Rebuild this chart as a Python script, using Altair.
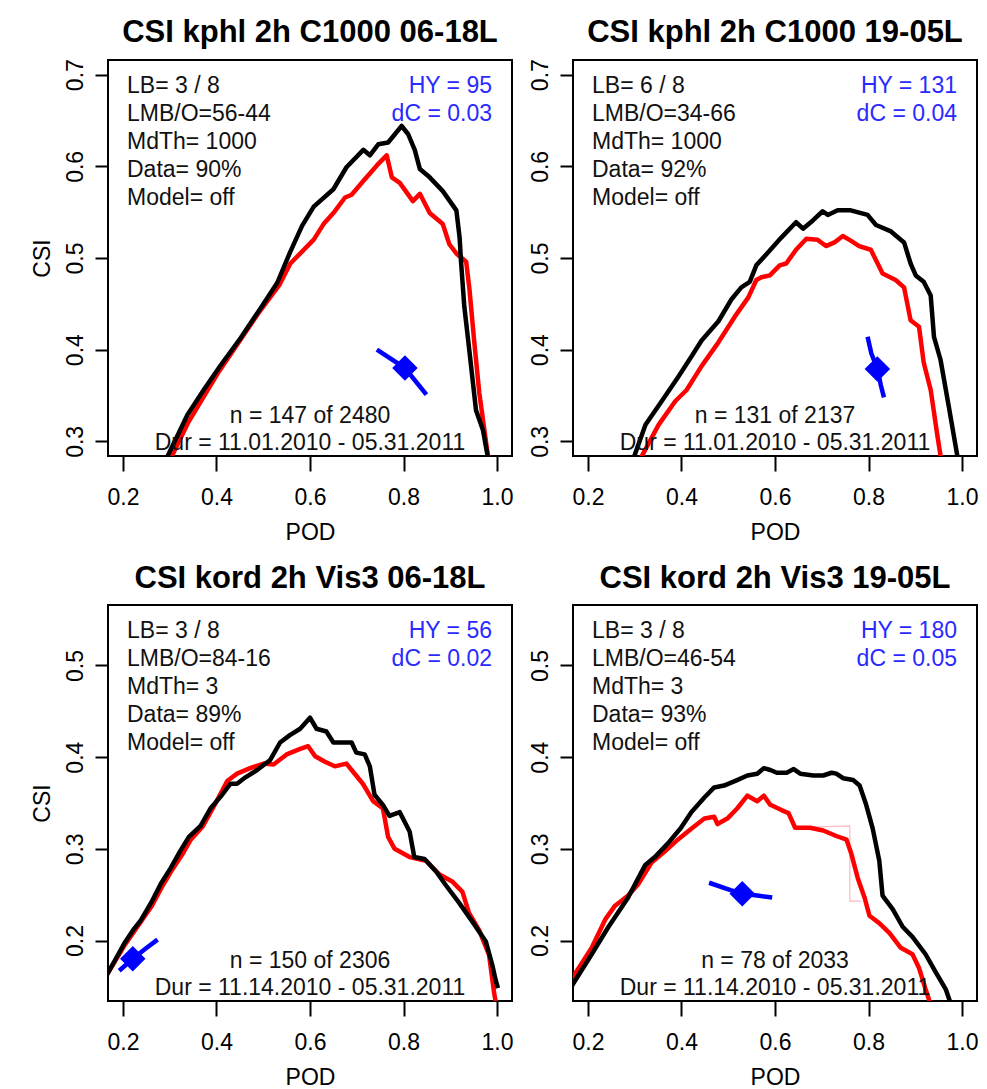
import altair as alt
import pandas as pd

FONT = "Liberation Sans"

# ---------------- panel texts ----------------
titles = ["CSI kphl 2h C1000 06-18L", "CSI kphl 2h C1000 19-05L",
          "CSI kord 2h Vis3 06-18L", "CSI kord 2h Vis3 19-05L"]
lb = ["3 / 8", "6 / 8", "3 / 8", "3 / 8"]
lmbo = ["56-44", "34-66", "84-16", "46-54"]
mdth = ["1000", "1000", "3", "3"]
data_pct = ["90%", "92%", "89%", "93%"]
model = ["off", "off", "off", "off"]
hy = [95, 131, 56, 180]
dc = ["0.03", "0.04", "0.02", "0.05"]
n_hits = [147, 131, 150, 78]
n_total = [2480, 2137, 2306, 2033]
dur = ["11.01.2010 - 05.31.2011", "11.01.2010 - 05.31.2011",
       "11.14.2010 - 05.31.2011", "11.14.2010 - 05.31.2011"]

x_ticks = [0.2, 0.4, 0.6, 0.8, 1.0]
y_ticks_top = [0.3, 0.4, 0.5, 0.6, 0.7]
y_ticks_bottom = [0.2, 0.3, 0.4, 0.5]

# ---------------- panel 1 : kphl C1000 06-18L ----------------
p1_black_pod = [0.290, 0.338, 0.374, 0.409, 0.452, 0.494, 0.530, 0.558, 0.583, 0.608, 0.650, 0.678,
                0.714, 0.728, 0.746, 0.767, 0.796, 0.810, 0.824, 0.835, 0.856, 0.884, 0.913, 0.920,
                0.923, 0.930, 0.941, 0.955, 0.970, 0.982]
p1_black_csi = [0.278, 0.329, 0.357, 0.383, 0.413, 0.445, 0.473, 0.507, 0.535, 0.556, 0.575, 0.599,
                0.618, 0.612, 0.624, 0.626, 0.644, 0.635, 0.618, 0.597, 0.588, 0.573, 0.552, 0.522,
                0.496, 0.447, 0.398, 0.334, 0.312, 0.278]
p1_red_pod = [0.299, 0.340, 0.405, 0.490, 0.535, 0.558, 0.608, 0.629, 0.650, 0.675, 0.689, 0.714,
              0.743, 0.764, 0.775, 0.792, 0.820, 0.835, 0.856, 0.884, 0.898, 0.913, 0.934, 0.941,
              0.951, 0.962, 0.980, 0.985]
p1_red_csi = [0.278, 0.321, 0.376, 0.440, 0.471, 0.494, 0.520, 0.537, 0.549, 0.566, 0.569, 0.584,
              0.601, 0.612, 0.588, 0.582, 0.562, 0.570, 0.549, 0.537, 0.515, 0.505, 0.496, 0.466,
              0.410, 0.353, 0.286, 0.278]
p1_blue_pod = [0.743, 0.803, 0.849]
p1_blue_csi = [0.400, 0.380, 0.351]
p1_pink_pod = []
p1_pink_csi = []

# ---------------- panel 2 : kphl C1000 19-05L ----------------
p2_black_pod = [0.295, 0.323, 0.358, 0.394, 0.422, 0.443, 0.479, 0.507, 0.528, 0.546, 0.560, 0.585,
                0.613, 0.645, 0.660, 0.681, 0.702, 0.713, 0.734, 0.762, 0.798, 0.816, 0.848, 0.876,
                0.890, 0.901, 0.918, 0.933, 0.940, 0.954, 0.972, 0.992]
p2_black_csi = [0.278, 0.318, 0.344, 0.371, 0.393, 0.410, 0.431, 0.455, 0.468, 0.474, 0.492, 0.506,
                0.522, 0.539, 0.532, 0.541, 0.551, 0.547, 0.552, 0.552, 0.547, 0.536, 0.529, 0.517,
                0.494, 0.481, 0.474, 0.459, 0.414, 0.389, 0.337, 0.278]
p2_red_pod = [0.309, 0.351, 0.387, 0.411, 0.443, 0.479, 0.514, 0.543, 0.560, 0.571, 0.589, 0.610,
              0.624, 0.645, 0.667, 0.691, 0.709, 0.727, 0.745, 0.762, 0.780, 0.805, 0.830, 0.858,
              0.876, 0.890, 0.908, 0.918, 0.933, 0.947, 0.956]
p2_red_csi = [0.278, 0.318, 0.344, 0.356, 0.382, 0.408, 0.436, 0.457, 0.476, 0.479, 0.481, 0.492,
              0.494, 0.509, 0.521, 0.520, 0.513, 0.517, 0.524, 0.519, 0.513, 0.509, 0.483, 0.476,
              0.468, 0.432, 0.425, 0.386, 0.356, 0.307, 0.278]
p2_blue_pod = [0.798, 0.806, 0.819, 0.826, 0.833]
p2_blue_csi = [0.414, 0.396, 0.379, 0.362, 0.348]
p2_pink_pod = []
p2_pink_csi = []

# ---------------- panel 3 : kord Vis3 06-18L ----------------
p3_black_pod = [0.165, 0.203, 0.224, 0.238, 0.260, 0.281, 0.302, 0.323, 0.341, 0.366, 0.387, 0.409,
                0.430, 0.444, 0.462, 0.487, 0.515, 0.536, 0.557, 0.579, 0.600, 0.614, 0.635, 0.650,
                0.689, 0.699, 0.717, 0.728, 0.738, 0.756, 0.770, 0.792, 0.813, 0.823, 0.845, 0.870,
                0.891, 0.919, 0.948, 0.976, 0.990, 0.997, 1.002]
p3_black_csi = [0.162, 0.197, 0.213, 0.222, 0.241, 0.262, 0.279, 0.298, 0.313, 0.325, 0.344, 0.357,
                0.371, 0.371, 0.378, 0.386, 0.397, 0.416, 0.424, 0.431, 0.443, 0.431, 0.428, 0.416,
                0.416, 0.405, 0.403, 0.390, 0.359, 0.348, 0.336, 0.340, 0.319, 0.291, 0.289, 0.275,
                0.260, 0.241, 0.220, 0.199, 0.173, 0.157, 0.148]
p3_red_pod = [0.165, 0.205, 0.231, 0.262, 0.285, 0.305, 0.327, 0.345, 0.370, 0.392, 0.423, 0.444,
              0.472, 0.501, 0.522, 0.550, 0.579, 0.596, 0.611, 0.632, 0.653, 0.678, 0.689, 0.713,
              0.735, 0.756, 0.767, 0.781, 0.813, 0.848, 0.877, 0.905, 0.926, 0.940, 0.962, 0.983,
              0.994, 0.999]
p3_red_csi = [0.162, 0.196, 0.215, 0.238, 0.260, 0.277, 0.294, 0.310, 0.324, 0.344, 0.374, 0.382,
              0.388, 0.393, 0.392, 0.403, 0.409, 0.412, 0.401, 0.395, 0.390, 0.393, 0.386, 0.371,
              0.352, 0.344, 0.313, 0.300, 0.291, 0.287, 0.272, 0.264, 0.253, 0.230, 0.211, 0.184,
              0.142, 0.128]
p3_blue_pod = [0.192, 0.221, 0.248, 0.274]
p3_blue_csi = [0.167, 0.180, 0.191, 0.201]
p3_pink_pod = []
p3_pink_csi = []

# ---------------- panel 4 : kord Vis3 19-05L ----------------
p4_black_pod = [0.160, 0.208, 0.244, 0.286, 0.322, 0.343, 0.371, 0.399, 0.421, 0.449, 0.470, 0.491,
                0.519, 0.541, 0.562, 0.576, 0.590, 0.604, 0.625, 0.640, 0.654, 0.682, 0.703, 0.721,
                0.731, 0.746, 0.767, 0.781, 0.795, 0.809, 0.823, 0.830, 0.852, 0.873, 0.894, 0.922,
                0.943, 0.965, 0.980]
p4_black_csi = [0.146, 0.185, 0.215, 0.247, 0.282, 0.291, 0.306, 0.323, 0.340, 0.356, 0.367, 0.369,
                0.375, 0.380, 0.382, 0.388, 0.386, 0.383, 0.383, 0.387, 0.382, 0.380, 0.380, 0.383,
                0.382, 0.377, 0.375, 0.369, 0.348, 0.322, 0.287, 0.249, 0.234, 0.215, 0.204, 0.185,
                0.166, 0.147, 0.125]
p4_red_pod = [0.160, 0.208, 0.237, 0.258, 0.286, 0.307, 0.336, 0.364, 0.392, 0.421, 0.449, 0.470,
              0.477, 0.498, 0.519, 0.541, 0.562, 0.576, 0.590, 0.615, 0.629, 0.643, 0.675, 0.703,
              0.731, 0.753, 0.763, 0.777, 0.792, 0.802, 0.823, 0.845, 0.869, 0.894, 0.908, 0.922,
              0.936]
p4_red_csi = [0.154, 0.192, 0.223, 0.238, 0.249, 0.261, 0.285, 0.297, 0.310, 0.322, 0.333, 0.335,
              0.327, 0.333, 0.344, 0.358, 0.352, 0.358, 0.348, 0.342, 0.339, 0.323, 0.323, 0.320,
              0.314, 0.310, 0.295, 0.268, 0.246, 0.227, 0.219, 0.208, 0.192, 0.185, 0.170, 0.147,
              0.125]
p4_blue_pod = [0.459, 0.505, 0.530, 0.562, 0.594]
p4_blue_csi = [0.263, 0.255, 0.251, 0.249, 0.247]
p4_pink_pod = [0.640, 0.760, 0.760, 0.785]
p4_pink_csi = [0.323, 0.325, 0.243, 0.243]

PANELS = [
    dict(black=(p1_black_pod, p1_black_csi), red=(p1_red_pod, p1_red_csi),
         blue=(p1_blue_pod, p1_blue_csi), pink=(p1_pink_pod, p1_pink_csi),
         center=1, ydom=[0.284, 0.716], yticks=y_ticks_top, ytitle=True),
    dict(black=(p2_black_pod, p2_black_csi), red=(p2_red_pod, p2_red_csi),
         blue=(p2_blue_pod, p2_blue_csi), pink=(p2_pink_pod, p2_pink_csi),
         center=2, ydom=[0.284, 0.716], yticks=y_ticks_top, ytitle=False),
    dict(black=(p3_black_pod, p3_black_csi), red=(p3_red_pod, p3_red_csi),
         blue=(p3_blue_pod, p3_blue_csi), pink=(p3_pink_pod, p3_pink_csi),
         center=1, ydom=[0.134, 0.566], yticks=y_ticks_bottom, ytitle=True),
    dict(black=(p4_black_pod, p4_black_csi), red=(p4_red_pod, p4_red_csi),
         blue=(p4_blue_pod, p4_blue_csi), pink=(p4_pink_pod, p4_pink_csi),
         center=2, ydom=[0.134, 0.566], yticks=y_ticks_bottom, ytitle=False),
]

W = 404
H = 396
TXT = 23


def series_df(xs, ys):
    return pd.DataFrame({"POD": xs, "CSI": ys, "i": list(range(len(xs)))})


def make_panel(k):
    p = PANELS[k]
    h = H
    xenc = alt.X("POD:Q", scale=alt.Scale(domain=[0.168, 1.032], nice=False, zero=False),
                 axis=alt.Axis(values=x_ticks, format=".1f", title="POD"))
    yaxis = alt.Axis(values=p["yticks"], format=".1f", title="CSI") if p["ytitle"] else \
        alt.Axis(values=p["yticks"], format=".1f", title=None)
    yenc = alt.Y("CSI:Q", scale=alt.Scale(domain=p["ydom"], nice=False, zero=False), axis=yaxis)

    layers = []
    if len(p["pink"][0]):
        layers.append(alt.Chart(series_df(*p["pink"])).mark_line(
            color="#ffb6c1", strokeWidth=1.2, clip=True).encode(x=xenc, y=yenc, order="i:Q"))
    layers.append(alt.Chart(series_df(*p["red"])).mark_line(
        color="#ff0000", strokeWidth=4.5, clip=True, strokeJoin="round").encode(x=xenc, y=yenc, order="i:Q"))
    layers.append(alt.Chart(series_df(*p["black"])).mark_line(
        color="#000000", strokeWidth=4.5, clip=True, strokeJoin="round").encode(x=xenc, y=yenc, order="i:Q"))
    bdf = series_df(*p["blue"])
    layers.append(alt.Chart(bdf).mark_line(
        color="#0000ff", strokeWidth=4.5, clip=True).encode(x=xenc, y=yenc, order="i:Q"))
    layers.append(alt.Chart(bdf[bdf["i"] == p["center"]]).mark_point(
        shape="diamond", filled=True, color="#0000ff", size=650, opacity=1).encode(x=xenc, y=yenc))

    left_txt = "\n".join([f"LB= {lb[k]}", f"LMB/O={lmbo[k]}", f"MdTh= {mdth[k]}",
                          f"Data= {data_pct[k]}", f"Model= {model[k]}"])
    right_txt = "\n".join([f"HY = {hy[k]}", f"dC = {dc[k]}"])
    bottom_txt = "\n".join([f"n = {n_hits[k]} of {n_total[k]}", f"Dur = {dur[k]}"])

    layers.append(alt.Chart(pd.DataFrame({"t": [left_txt]})).mark_text(
        align="left", baseline="top", lineBreak="\n", lineHeight=28, font=FONT, fontSize=TXT,
        color="#111111").encode(text="t:N", x=alt.value(19), y=alt.value(15)))
    layers.append(alt.Chart(pd.DataFrame({"t": [right_txt]})).mark_text(
        align="right", baseline="top", lineBreak="\n", lineHeight=28, font=FONT, fontSize=TXT,
        color="#2a2aff").encode(text="t:N", x=alt.value(W - 20), y=alt.value(15)))
    layers.append(alt.Chart(pd.DataFrame({"t": [bottom_txt]})).mark_text(
        align="center", baseline="top", lineBreak="\n", lineHeight=27, font=FONT, fontSize=TXT,
        color="#111111").encode(text="t:N", x=alt.value(W / 2), y=alt.value(h - 51)))

    return alt.layer(*layers).properties(
        width=W, height=h,
        title=alt.TitleParams(titles[k], font=FONT, fontSize=31, fontWeight="bold",
                              anchor="middle", offset=10, color="#000000"))


row1 = alt.hconcat(make_panel(0), make_panel(1), spacing=13)
row2 = alt.hconcat(make_panel(2), make_panel(3), spacing=13)
chart = alt.vconcat(row1, row2, spacing=17).properties(
    padding={"left": 30, "top": 15, "right": 5, "bottom": 5},
    background="white",
).configure_view(
    stroke="#000000", strokeWidth=2
).configure_axis(
    domain=False, grid=False, ticks=True, tickColor="#000000", tickWidth=2, tickSize=13,
    labelFont=FONT, labelFontSize=23, labelColor="#000000", labelPadding=8,
    titleFont=FONT, titleFontSize=23, titleFontWeight="normal", titleColor="#000000",
).configure_axisY(
    labelAngle=270, labelAlign="center", labelBaseline="bottom", titlePadding=10
).configure_axisX(
    tickSize=15, labelPadding=15, titlePadding=12
)

chart.save("out.html", embed_options={"renderer": "svg", "actions": False})
